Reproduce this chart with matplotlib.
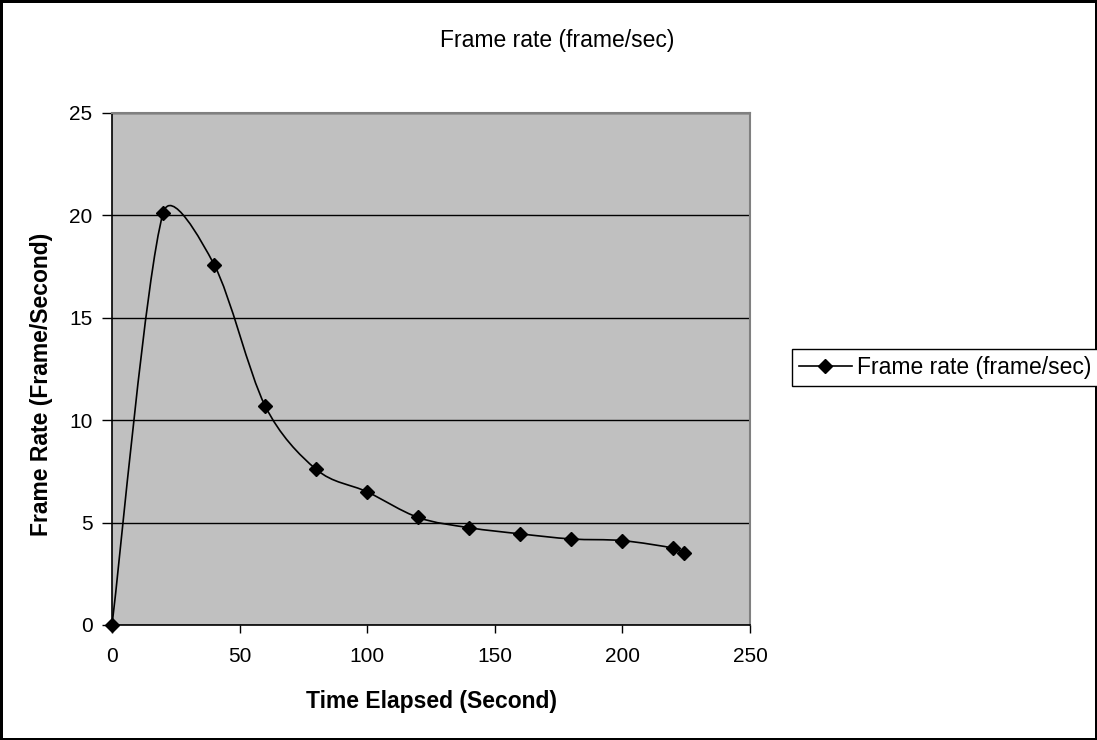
import numpy as np
import matplotlib
matplotlib.use("Agg")
import matplotlib.pyplot as plt
from matplotlib.path import Path
from matplotlib.patches import PathPatch
from matplotlib.lines import Line2D

plt.rcParams['font.family'] = ['Liberation Sans', 'DejaVu Sans']

# data
time_s = [0, 20, 40, 60, 80, 100, 120, 140, 160, 180, 200, 220, 224]
frame_rate = [0, 20.1, 17.6, 10.7, 7.6, 6.5, 5.25, 4.75, 4.45, 4.2, 4.12, 3.75, 3.5]
x_ticks = [0, 50, 100, 150, 200, 250]
y_ticks = [0, 5, 10, 15, 20, 25]
title = "Frame rate (frame/sec)"


def smooth_path(ax, xs, ys, cap=0.4):
    # excel-like smoothed line: catmull-rom bezier in screen space,
    # handles limited to a fraction of the segment length
    tr = ax.transData
    p = tr.transform(np.column_stack([xs, ys]).astype(float))
    p = np.vstack([p[0], p, p[-1]])

    def limit(h, seg):
        n = np.hypot(*h)
        m = cap * np.hypot(*seg)
        return h * (m / n) if n > m and n > 0 else h

    verts = [p[1]]
    codes = [Path.MOVETO]
    for i in range(1, len(p) - 2):
        seg = p[i + 1] - p[i]
        c1 = p[i] + limit((p[i + 1] - p[i - 1]) / 6, seg)
        c2 = p[i + 1] - limit((p[i + 2] - p[i]) / 6, seg)
        verts += [c1, c2, p[i + 1]]
        codes += [Path.CURVE4] * 3
    verts = tr.inverted().transform(np.array(verts))
    return Path(verts, codes)


fig = plt.figure(figsize=(10.97, 7.40), dpi=100)
fig.patch.set_edgecolor('black')
fig.patch.set_linewidth(2.5)

ax = fig.add_axes([112 / 1097, 115 / 740, 638 / 1097, 512 / 740])
ax.set_facecolor('#C0C0C0')
ax.set_xlim(0, 250)
ax.set_ylim(0, 25)

ax.add_patch(PathPatch(smooth_path(ax, time_s, frame_rate), facecolor='none',
                       edgecolor='black', lw=1.2, zorder=3))
ax.plot(time_s, frame_rate, ls='none', marker='D', ms=7.5, color='black', zorder=4, clip_on=False)

ax.set_xticks(x_ticks)
ax.set_yticks(y_ticks)
ax.tick_params(axis='both', direction='out', width=1, labelsize=15, colors='black')
ax.tick_params(axis='x', length=6, pad=10)
ax.tick_params(axis='y', length=7, pad=7)
ax.yaxis.grid(True, color='black', lw=1)
ax.set_axisbelow(True)
for s in ['top', 'right']:
    ax.spines[s].set_color('#808080')
    ax.spines[s].set_linewidth(1.5)
for s in ['left', 'bottom']:
    ax.spines[s].set_color('black')
    ax.spines[s].set_linewidth(1.2)

ax.set_xlabel("Time Elapsed (Second)", fontsize=16.5, fontweight='bold', labelpad=17)
ax.set_ylabel("Frame Rate (Frame/Second)", fontsize=16.5, fontweight='bold', labelpad=12)
ax.yaxis.label.set_y(0.47)

fig.text(557 / 1097, 1 - 40 / 740, title, ha='center', va='center', fontsize=16.5)

handle = Line2D([], [], color='black', lw=1.2, marker='D', ms=7.5)
leg = fig.legend([handle], [title], loc='upper left', bbox_to_anchor=(792 / 1097, 1 - 349 / 740),
                 fontsize=16.5, frameon=True, fancybox=False, edgecolor='black', framealpha=1,
                 handlelength=2.3, handletextpad=0.25, borderpad=0.3, borderaxespad=0)
leg.get_frame().set_linewidth(1)

fig.savefig("out.png", dpi=100, edgecolor=fig.get_edgecolor())
